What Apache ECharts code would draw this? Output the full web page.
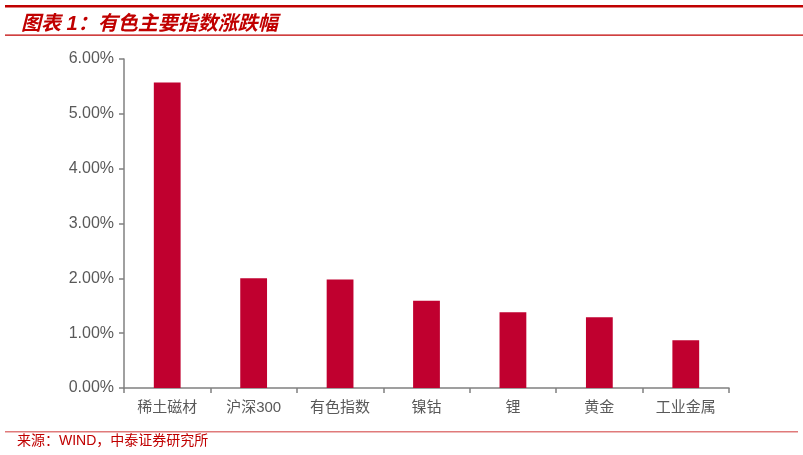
<!DOCTYPE html>
<html><head><meta charset="utf-8">
<script src="https://cdn.jsdelivr.net/npm/echarts@6/dist/echarts.min.js"></script>
<style>html,body{margin:0;padding:0;background:#fff}#c{width:803px;height:455px}</style>
</head><body><div id="c"></div>
<script>
const categories = ['稀土磁材','沪深300','有色指数','镍钴','锂','黄金','工业金属'];
const values = [5.57, 2.00, 1.98, 1.59, 1.38, 1.29, 0.87];
const yTicks = [0, 1, 2, 3, 4, 5, 6];
const titleText = '图表 1：有色主要指数涨跌幅';
const sourceText = '来源：WIND，中泰证券研究所';

const chart = echarts.init(document.getElementById('c'));
chart.setOption({
  animation: false,
  backgroundColor: '#fff',
  title: {
    text: titleText, left: 16, top: 9,
    textStyle: {color: '#c00000', fontSize: 20, fontStyle: 'italic', fontWeight: 'bold', fontFamily: 'Liberation Sans, Noto Sans CJK SC'}
  },
  graphic: [
    {type: 'rect', shape: {x: 5, y: 5, width: 798, height: 2.5}, style: {fill: '#c00000'}},
    {type: 'rect', shape: {x: 5, y: 34.5, width: 798, height: 1.2}, style: {fill: '#c00000'}},
    {type: 'rect', shape: {x: 5, y: 431, width: 793, height: 1.5}, style: {fill: '#e07a7a'}},
    {type: 'text', left: 17, top: 434, style: {text: sourceText, fill: '#c00000', fontSize: 14, fontFamily: 'Liberation Sans, Noto Sans CJK SC'}}
  ],
  grid: {left: 124, right: 74, top: 59, bottom: 67},
  xAxis: {
    type: 'category', data: categories,
    axisLine: {lineStyle: {color: '#808080', width: 1.5}},
    axisTick: {show: true, length: 5, lineStyle: {color: '#808080', width: 1.5}},
    axisLabel: {color: '#595959', fontSize: 15, margin: 12, fontFamily: 'Liberation Sans, Noto Sans CJK SC'}
  },
  yAxis: {
    type: 'value', min: yTicks[0], max: yTicks[yTicks.length-1], interval: 1,
    axisLine: {show: true, lineStyle: {color: '#808080', width: 1.5}},
    axisTick: {show: true, length: 5, lineStyle: {color: '#808080', width: 1.5}},
    splitLine: {show: false},
    axisLabel: {color: '#595959', fontSize: 16, margin: 10, fontFamily: 'Liberation Sans',
      formatter: v => v.toFixed(2) + '%'}
  },
  series: [{
    type: 'bar', data: values, barWidth: '31%',
    itemStyle: {color: '#c0002f'}
  }]
});
</script></body></html>
